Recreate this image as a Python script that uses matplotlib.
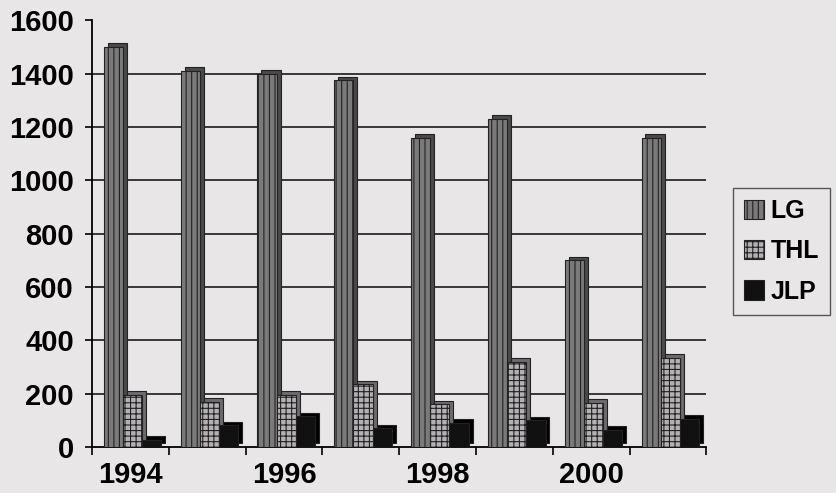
import matplotlib.pyplot as plt
import numpy as np

# values
years = ['1994', '1995', '1996', '1997', '1998', '1999', '2000', '2001']
year_labels = ['1994', '', '1996', '', '1998', '', '2000', '']
lg = [1500, 1410, 1400, 1375, 1160, 1230, 700, 1160]
thl = [195, 170, 195, 235, 160, 320, 165, 335]
jlp = [28, 82, 115, 70, 90, 100, 65, 105]

plt.rcParams['font.family'] = ['Liberation Sans', 'DejaVu Sans']
plt.rcParams['hatch.linewidth'] = 0.8

bg = '#e9e6e8'
fig = plt.figure(figsize=(8.36, 4.93), dpi=100, facecolor=bg)
ax = fig.add_axes([0.11, 0.093, 0.735, 0.866], facecolor=bg)

x = np.arange(len(years))
width = 0.25
depth_x = 0.05
depth_y = 14

series = [
    ('LG', lg, -0.22, '#7a7a7a', '#4a4a4a', '|||'),
    ('THL', thl, 0.03, '#b4b0b4', '#6e6a6e', '+++'),
    ('JLP', jlp, 0.28, '#111111', '#000000', None),
]

handles = []
for name, vals, off, face, side, hatch in series:
    # back face to fake the 3D depth
    ax.bar(x + off + depth_x, vals, width, bottom=depth_y, color=side,
           edgecolor='#222222', linewidth=0.8, zorder=3)
    h = ax.bar(x + off, vals, width, color=face, edgecolor='#222222',
               hatch=hatch, linewidth=0.8, zorder=4, label=name)
    handles.append(h)

ax.set_xlim(-0.5, 7.5)
ax.set_ylim(0, 1600)
ax.set_yticks(np.arange(0, 1601, 200))
ax.tick_params(axis='y', labelsize=21, length=5, width=1.2, direction='out', pad=8)
for lab in ax.get_yticklabels():
    lab.set_fontweight('bold')

ax.set_xticks(np.arange(-0.5, 8, 1))
ax.set_xticklabels([])
ax.set_xticks(x, minor=True)
ax.set_xticklabels(year_labels, minor=True, fontsize=21, fontweight='bold')
ax.tick_params(axis='x', which='major', length=6, width=1.2)
ax.tick_params(axis='x', which='minor', length=0, pad=10)

for yv in range(200, 1600, 200):
    ax.axhline(yv, color='#1a1a1a', linewidth=1.2, zorder=1)

ax.spines['top'].set_visible(False)
ax.spines['right'].set_visible(False)
ax.spines['left'].set_linewidth(1.3)
ax.spines['bottom'].set_linewidth(1.3)

leg = fig.legend(handles=handles, loc='center left', bbox_to_anchor=(0.877, 0.49),
                 prop={'size': 18, 'weight': 'bold'}, frameon=True, fancybox=False,
                 edgecolor='#333333', facecolor=bg, handlelength=0.8, handleheight=0.8,
                 handletextpad=0.25, labelspacing=0.65, borderpad=0.45,
                 borderaxespad=0.0)

fig.savefig('out.png', dpi=100, facecolor=bg)
